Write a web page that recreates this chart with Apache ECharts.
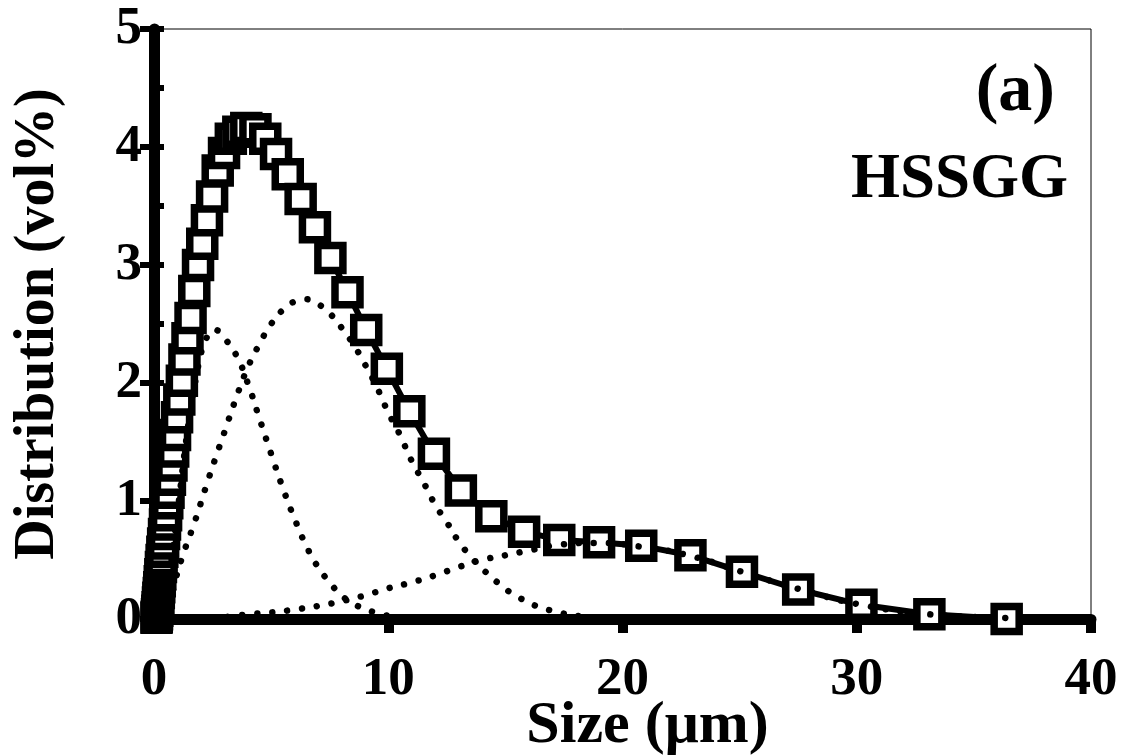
<!DOCTYPE html>
<html>
<head>
<meta charset="utf-8">
<script src="https://cdn.jsdelivr.net/npm/echarts@6/dist/echarts.min.js"></script>
<style>
  html, body { margin: 0; padding: 0; background: #fff; }
  #chart { width: 1123px; height: 756px; }
</style>
</head>
<body>
<div id="chart"></div>
<script>
// measured size classes (um) and total distribution (vol%)
var sizes = [0.107, 0.118, 0.129, 0.141, 0.155, 0.170, 0.186, 0.205, 0.224, 0.246,
  0.270, 0.296, 0.325, 0.356, 0.391, 0.429, 0.470, 0.516, 0.566, 0.620,
  0.680, 0.746, 0.819, 0.898, 0.985, 1.08, 1.19, 1.30, 1.43, 1.56,
  1.72, 1.88, 2.06, 2.26, 2.48, 2.72, 2.99, 3.28, 3.60, 3.94,
  4.33, 4.75, 5.21, 5.71, 6.26, 6.87, 7.53, 8.26, 9.06, 9.94,
  10.9, 11.95, 13.1, 14.4, 15.8, 17.3, 19.0, 20.8, 22.9, 25.1,
  27.5, 30.2, 33.1, 36.4]
var totalDist = [0.01, 0.02, 0.04, 0.07, 0.10, 0.14, 0.18, 0.22, 0.27, 0.32,
  0.38, 0.44, 0.50, 0.57, 0.64, 0.72, 0.80, 0.88, 0.98, 1.07,
  1.18, 1.30, 1.42, 1.56, 1.71, 1.86, 2.02, 2.20, 2.38, 2.55,
  2.78, 3.00, 3.18, 3.38, 3.58, 3.80, 3.95, 4.07, 4.13, 4.16,
  4.15, 4.07, 3.94, 3.77, 3.56, 3.32, 3.06, 2.77, 2.45, 2.12,
  1.76, 1.40, 1.09, 0.87, 0.74, 0.67, 0.65, 0.62, 0.54, 0.40,
  0.25, 0.12, 0.04, 0.0]

// fitted components (dotted)
var peak1X = [0.3, 0.6, 1.0, 1.4, 1.8, 2.2, 2.6, 3.0, 3.5, 4.0, 4.5, 5.0, 5.5, 6.0, 6.5, 7.0, 7.5, 8.0, 8.6, 9.2, 9.8, 10.5, 11.5]
var peak1Y = [0, 0.3, 0.9, 1.55, 2.05, 2.36, 2.45, 2.38, 2.24, 2.0, 1.70, 1.40, 1.11, 0.85, 0.62, 0.44, 0.31, 0.20, 0.12, 0.07, 0.035, 0.015, 0]
var peak2X = [0.5, 0.7, 0.94, 1.3, 1.75, 2.2, 2.6, 3.0, 3.5, 4.0, 4.5, 5.0, 5.5, 6.0, 6.5, 7.0, 7.5, 8.0, 8.5, 9.0, 9.5, 10.0, 10.5, 11.0, 11.5, 12.0, 12.5, 13.0, 13.6, 14.1, 14.6, 15.1, 15.6, 16.2, 16.8, 17.4, 18.1, 19.0, 20.0]
var peak2Y = [0, 0.15, 0.35, 0.58, 0.83, 1.11, 1.35, 1.58, 1.87, 2.13, 2.33, 2.50, 2.62, 2.69, 2.71, 2.67, 2.59, 2.47, 2.33, 2.16, 1.97, 1.75, 1.56, 1.34, 1.16, 0.97, 0.82, 0.66, 0.51, 0.41, 0.32, 0.24, 0.18, 0.12, 0.08, 0.05, 0.025, 0.01, 0]
var peak3X = [2.5, 4, 5, 6, 7, 8, 9, 10, 11, 12, 13, 14, 15, 16, 17.3, 18.9, 20.7, 22.8, 25.1, 27.6, 30.2, 33.1, 36.2, 38]
var peak3Y = [0, 0.04, 0.055, 0.08, 0.11, 0.15, 0.20, 0.26, 0.31, 0.37, 0.44, 0.50, 0.54, 0.58, 0.63, 0.645, 0.615, 0.54, 0.40, 0.25, 0.12, 0.04, 0.01, 0]

var xTicks = [0, 10, 20, 30, 40]
var yTicks = [0, 1, 2, 3, 4, 5]

function pairs(xs, ys) {
  return xs.map(function (x, i) { return [x, ys[i]] })
}

var font = '"Liberation Serif", "Times New Roman", serif'
var chart = echarts.init(document.getElementById('chart'), null, { renderer: 'canvas' })

var dotted = {
  color: '#000',
  width: 6.5,
  type: [0.01, 15],
  cap: 'round'
}

chart.setOption({
  animation: false,
  backgroundColor: '#fff',
  grid: {
    left: 154,
    right: 32,
    top: 29,
    bottom: 137,
    show: true,
    borderColor: '#000',
    borderWidth: 1,
    containLabel: false,
    outerBoundsMode: 'none'
  },
  xAxis: {
    type: 'value',
    min: xTicks[0],
    max: xTicks[xTicks.length - 1],
    interval: 10,
    name: 'Size (μm)',
    nameLocation: 'middle',
    nameGap: 77,
    nameMoveOverlap: false,
    nameTextStyle: { fontFamily: font, fontWeight: 'bold', fontSize: 60, color: '#000', padding: [0, 0, 0, 50] },
    axisLine: { show: true, lineStyle: { color: '#000', width: 11 } },
    axisTick: { show: true, inside: false, length: 14, lineStyle: { color: '#000', width: 10 } },
    axisLabel: { fontFamily: font, fontWeight: 'bold', fontSize: 53, color: '#000', margin: 35, showMinLabel: true, showMaxLabel: true },
    splitLine: { show: false }
  },
  yAxis: [{
    type: 'value',
    position: 'left',
    min: yTicks[0],
    max: yTicks[yTicks.length - 1],
    interval: 1,
    name: 'Distribution (vol%)',
    nameLocation: 'middle',
    nameGap: 87,
    nameMoveOverlap: false,
    nameTextStyle: { fontFamily: font, fontWeight: 'bold', fontSize: 56, color: '#000' },
    axisLine: { show: true, lineStyle: { color: '#000', width: 11 } },
    axisTick: { show: true, inside: false, length: 14, lineStyle: { color: '#000', width: 6 } },
    axisLabel: { fontFamily: font, fontWeight: 'bold', fontSize: 53, color: '#000', margin: 12, showMinLabel: true, showMaxLabel: true },
    splitLine: { show: false }
  }, {
    // inner half of the ticks plus the 0.5 minor ticks
    type: 'value',
    position: 'left',
    offset: 0,
    min: yTicks[0],
    max: yTicks[yTicks.length - 1],
    interval: 1,
    axisLine: { show: false },
    axisTick: { show: true, inside: true, length: 10, lineStyle: { color: '#000', width: 6 } },
    minorTick: { show: true, splitNumber: 2, length: 10, lineStyle: { color: '#000', width: 6 } },
    axisLabel: { show: false },
    splitLine: { show: false }
  }],
  series: [{
    name: 'total',
    type: 'line',
    data: pairs(sizes, totalDist),
    clip: false,
    symbol: 'rect',
    symbolSize: 25,
    showAllSymbol: true,
    lineStyle: { color: '#000', width: 6 },
    itemStyle: { color: '#fff', borderColor: '#000', borderWidth: 7.5 },
    z: 2
  }, {
    name: 'peak1',
    type: 'line',
    data: pairs(peak1X, peak1Y),
    smooth: true,
    showSymbol: false,
    clip: false,
    lineStyle: dotted,
    z: 3
  }, {
    name: 'peak2',
    type: 'line',
    data: pairs(peak2X, peak2Y),
    smooth: true,
    showSymbol: false,
    clip: false,
    lineStyle: dotted,
    z: 3
  }, {
    name: 'peak3',
    type: 'line',
    data: pairs(peak3X, peak3Y),
    smooth: true,
    showSymbol: false,
    clip: false,
    lineStyle: dotted,
    z: 3
  }],
  graphic: [{
    type: 'text',
    right: 68,
    top: 58,
    style: { text: '(a)', fontFamily: font, fontWeight: 'bold', fontSize: 68, fill: '#000' }
  }, {
    type: 'text',
    right: 55,
    top: 149,
    style: { text: 'HSSGG', fontFamily: font, fontWeight: 'bold', fontSize: 63, fill: '#000' }
  }]
})
</script>
</body>
</html>
